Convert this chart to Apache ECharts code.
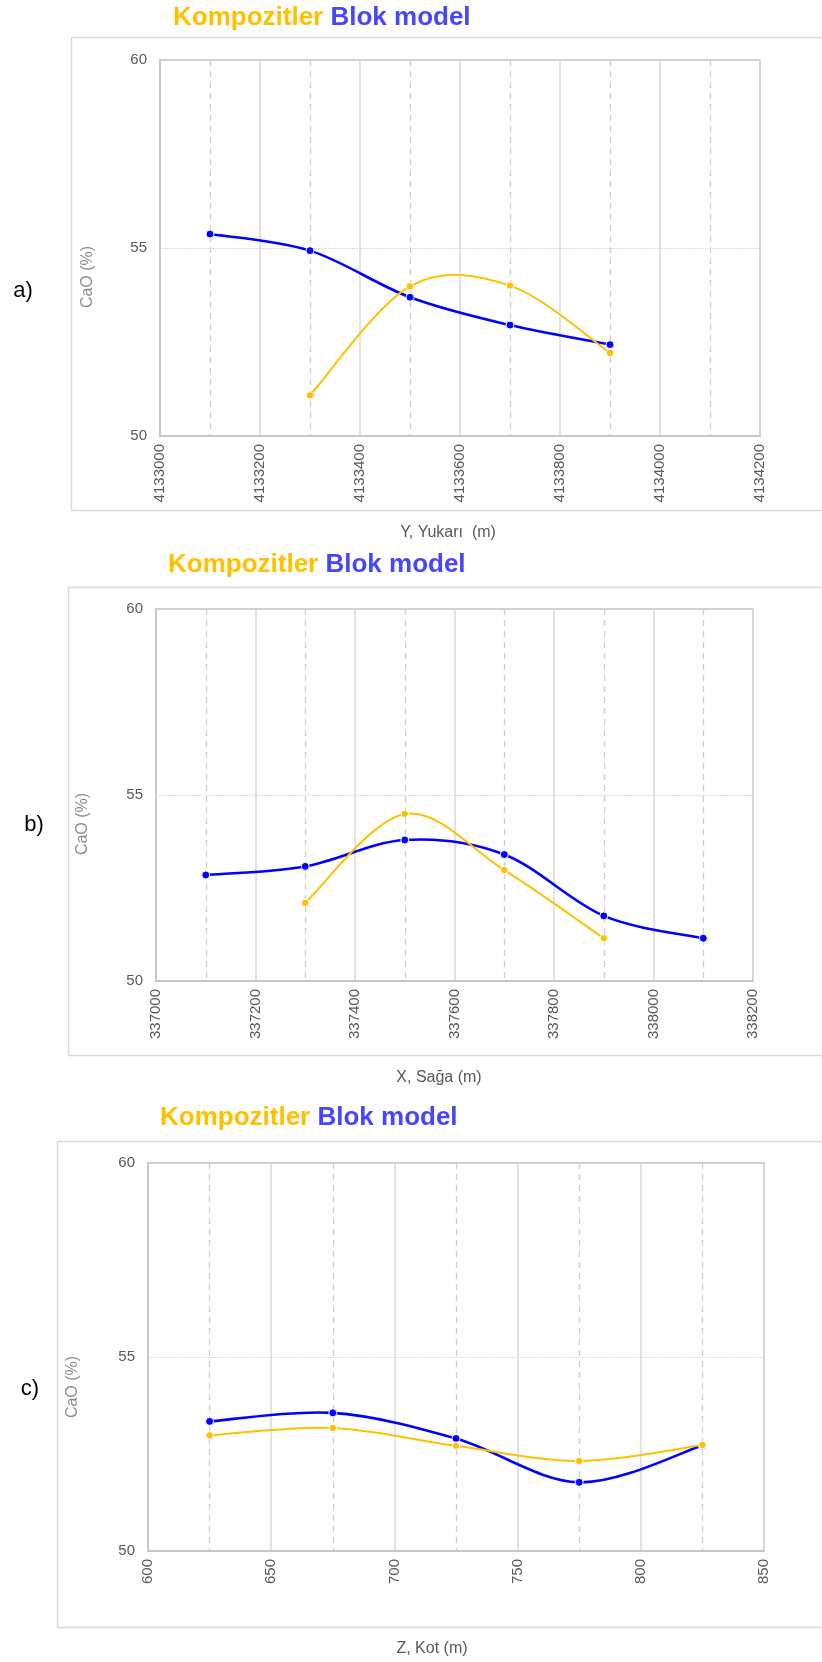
<!DOCTYPE html>
<html>
<head>
<meta charset="utf-8">
<script src="https://cdn.jsdelivr.net/npm/echarts@6/dist/echarts.min.js"></script>
<style>
html,body{margin:0;padding:0;background:#fff;}
#c{width:822px;height:1662px;}
</style>
</head>
<body>
<div id="c"></div>
<script>
// ---------- DATA ----------
const titleParts = ['Kompozitler', 'Blok model'];
const yAxisName = 'CaO (%)';
const panelLabels = ['a)', 'b)', 'c)'];
const xAxisNames = ['Y, Yukarı  (m)', 'X, Sağa (m)', 'Z, Kot (m)'];

// a) Y, Yukari
const aBlokX = [4133100, 4133300, 4133500, 4133700, 4133900];
const aBlokV = [55.37, 54.93, 53.69, 52.95, 52.43];
const aKompX = [4133300, 4133500, 4133700, 4133900];
const aKompV = [51.08, 53.98, 54.00, 52.21];

// b) X, Saga
const bBlokX = [337100, 337300, 337500, 337700, 337900, 338100];
const bBlokV = [52.85, 53.08, 53.79, 53.40, 51.75, 51.15];
const bKompX = [337300, 337500, 337700, 337900];
const bKompV = [52.10, 54.49, 52.98, 51.15];

// c) Z, Kot
const cBlokX = [625, 675, 725, 775, 825];
const cBlokV = [53.34, 53.56, 52.90, 51.77, 52.72];
const cKompX = [625, 675, 725, 775, 825];
const cKompV = [52.98, 53.17, 52.71, 52.32, 52.73];

// axis ranges / ticks
const xRanges = [
  {min: 4133000, max: 4134200, interval: 200},
  {min: 337000, max: 338200, interval: 200},
  {min: 600, max: 850, interval: 50}
];
const yRange = {min: 50, max: 60, interval: 5};

// ---------- LAYOUT ----------
const FONT = '"Liberation Sans", Arial, sans-serif';
const ORANGE = '#FFC000';
const BLUE = '#0000FF';
const grids = [
  {left: 160, top: 60, width: 600, height: 376},
  {left: 156, top: 609, width: 597, height: 372},
  {left: 148, top: 1163, width: 616, height: 388}
];
const boxes = [
  {x: 71, y: 37, w: 780, h: 473},
  {x: 68, y: 587, w: 780, h: 468},
  {x: 57, y: 1141, w: 790, h: 486}
];
const titlePos = [{left: 173, top: 5}, {left: 168, top: 552}, {left: 160, top: 1105}];
const panelPos = [[23, 291], [34, 825], [30, 1389]];
const yNamePos = [[88, 277], [83, 824], [73, 1387]];
const xNamePos = [[448, 533], [439, 1078], [432, 1649]];

const pairs = (xs, vs) => xs.map((x, i) => [x, vs[i]]);
const panels = [
  {blok: pairs(aBlokX, aBlokV), komp: pairs(aKompX, aKompV)},
  {blok: pairs(bBlokX, bBlokV), komp: pairs(bKompX, bKompV)},
  {blok: pairs(cBlokX, cBlokV), komp: pairs(cKompX, cKompV)}
];

const chart = echarts.init(document.getElementById('c'), null, {renderer: 'canvas'});

const titles = titlePos.map(p => ({
  text: '{k|' + titleParts[0] + '} {b|' + titleParts[1] + '}',
  left: p.left, top: p.top, padding: 0,
  textStyle: {
    fontFamily: FONT, fontSize: 26, fontWeight: 'bold', lineHeight: 26,
    rich: {
      k: {color: ORANGE, fontFamily: FONT, fontSize: 26, fontWeight: 'bold', lineHeight: 26},
      b: {color: '#4646FF', fontFamily: FONT, fontSize: 26, fontWeight: 'bold', lineHeight: 26}
    }
  }
}));

const graphics = [];
boxes.forEach(b => {
  graphics.push({type: 'rect', shape: {x: b.x + 0.5, y: b.y + 0.5, width: b.w, height: b.h},
    style: {fill: 'none', stroke: '#d9d9d9', lineWidth: 1.5}, z: -1});
});
panelPos.forEach((p, i) => {
  graphics.push({type: 'text', x: p[0], y: p[1],
    style: {text: panelLabels[i], fill: '#000', font: '22px ' + FONT, align: 'center', verticalAlign: 'middle'}});
});
yNamePos.forEach(p => {
  graphics.push({type: 'text', x: p[0], y: p[1], rotation: Math.PI / 2,
    style: {text: yAxisName, fill: '#8c8c8c', font: '16px ' + FONT, align: 'center', verticalAlign: 'middle'}});
});
xNamePos.forEach((p, i) => {
  graphics.push({type: 'text', x: p[0], y: p[1],
    style: {text: xAxisNames[i], fill: '#595959', font: '16px ' + FONT, align: 'center', verticalAlign: 'middle'}});
});

// Smooth curve (Excel-style cardinal spline, tension 1/6) drawn through the axis scales.
function smoothCurve(data, color, width) {
  return function (params, api) {
    const i = params.dataIndex;
    const n = data.length;
    if (i >= n - 1) return null;
    const pt = k => api.coord(data[Math.max(0, Math.min(n - 1, k))]);
    const p0 = pt(i - 1), p1 = pt(i), p2 = pt(i + 1), p3 = pt(i + 2);
    return {
      type: 'bezierCurve',
      shape: {
        x1: p1[0], y1: p1[1], x2: p2[0], y2: p2[1],
        cpx1: p1[0] + (p2[0] - p0[0]) / 6, cpy1: p1[1] + (p2[1] - p0[1]) / 6,
        cpx2: p2[0] - (p3[0] - p1[0]) / 6, cpy2: p2[1] - (p3[1] - p1[1]) / 6
      },
      style: {stroke: color, lineWidth: width, fill: null, lineCap: 'round'}
    };
  };
}

const option = {
  animation: false,
  backgroundColor: '#fff',
  title: titles,
  graphic: graphics,
  grid: grids.map(g => Object.assign({show: true, borderColor: '#c4c4c4', borderWidth: 1.5, containLabel: false}, g)),
  xAxis: xRanges.map((r, i) => ({
    type: 'value', gridIndex: i, min: r.min, max: r.max, interval: r.interval,
    axisLine: {show: true, lineStyle: {color: '#c4c4c4', width: 1.5}},
    axisTick: {show: false},
    minorTick: {show: false, splitNumber: 2},
    minorSplitLine: {show: true, lineStyle: {color: '#cfcfcf', width: 1.3, type: [6, 5]}},
    splitLine: {show: true, lineStyle: {color: '#d9d9d9', width: 1.5, type: 'solid'}},
    axisLabel: {rotate: 90, margin: 8, color: '#595959', fontFamily: FONT, fontSize: 15,
      showMinLabel: true, showMaxLabel: true, hideOverlap: false,
      formatter: v => String(v)}
  })),
  yAxis: [0, 1, 2].map(i => ({
    type: 'value', gridIndex: i, min: yRange.min, max: yRange.max, interval: yRange.interval,
    axisLine: {show: true, lineStyle: {color: '#c4c4c4', width: 1.5}},
    axisTick: {show: false},
    splitLine: {show: true, lineStyle: {color: '#d0d0d0', width: 1.2, type: 'dotted'}},
    axisLabel: {margin: 13, color: '#595959', fontFamily: FONT, fontSize: 15}
  })),
  series: []
};

panels.forEach((p, i) => {
  // Blok model curve + markers
  option.series.push({
    name: titleParts[1], type: 'custom', xAxisIndex: i, yAxisIndex: i,
    data: p.blok, encode: {x: 0, y: 1},
    renderItem: smoothCurve(p.blok, BLUE, 2.6), z: 3, silent: true
  });
  option.series.push({
    name: titleParts[1], type: 'line', xAxisIndex: i, yAxisIndex: i,
    data: p.blok, symbol: 'circle', symbolSize: 8,
    lineStyle: {width: 0, opacity: 0},
    itemStyle: {color: BLUE, borderColor: '#fff', borderWidth: 1},
    z: 4
  });
  // Kompozitler curve + markers
  option.series.push({
    name: titleParts[0], type: 'custom', xAxisIndex: i, yAxisIndex: i,
    data: p.komp, encode: {x: 0, y: 1},
    renderItem: smoothCurve(p.komp, ORANGE, 2), z: 5, silent: true
  });
  option.series.push({
    name: titleParts[0], type: 'line', xAxisIndex: i, yAxisIndex: i,
    data: p.komp, symbol: 'circle', symbolSize: 7.5,
    lineStyle: {width: 0, opacity: 0},
    itemStyle: {color: ORANGE, borderColor: '#fff', borderWidth: 1},
    z: 6
  });
});

chart.setOption(option);
</script>
</body>
</html>
